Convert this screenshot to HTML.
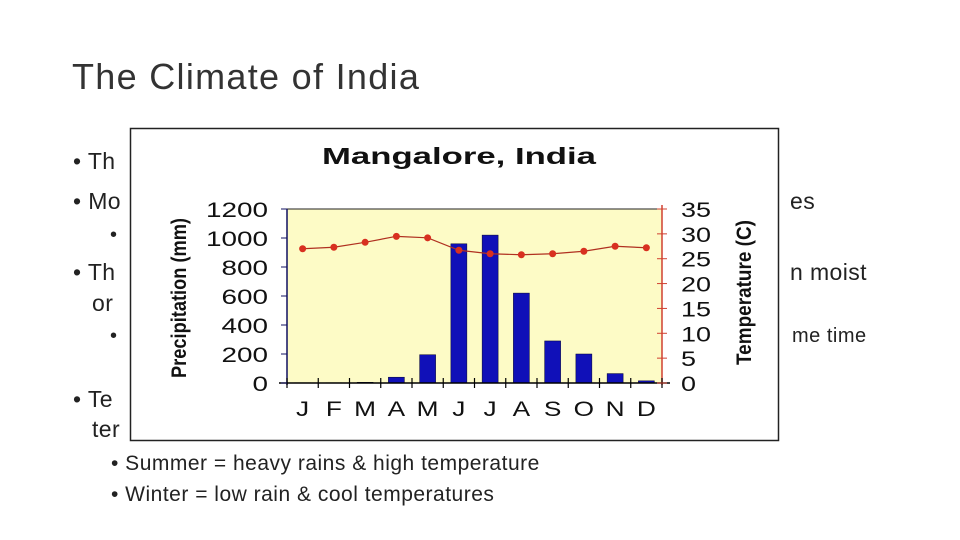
<!DOCTYPE html>
<html><head><meta charset="utf-8"><style>
body{margin:0;width:960px;height:540px;background:#fff;position:relative;overflow:hidden;font-family:"Liberation Sans",sans-serif}
.t{position:absolute;white-space:nowrap;color:#222;font-family:"Liberation Sans",sans-serif}
.m{font-size:23px;letter-spacing:0.4px}
.s{font-size:20px;letter-spacing:0.5px}
</style></head><body>
<div class="t" style="left:72px;top:56px;font-size:36px;letter-spacing:1.3px;color:#333">The Climate of India</div>
<div class="t m" style="left:73px;top:148px">• Th</div>
<div class="t m" style="left:73px;top:188px">• Mo</div>
<div class="t m" style="left:790px;top:188px">es</div>
<div class="t s" style="left:110px;top:224px">•</div>
<div class="t m" style="left:73px;top:259px">• Th</div>
<div class="t m" style="left:790px;top:259px">n moist</div>
<div class="t m" style="left:92px;top:290px">or</div>
<div class="t s" style="left:110px;top:325px">•</div>
<div class="t s" style="left:792px;top:325px">me time</div>
<div class="t m" style="left:73px;top:386px">• Te</div>
<div class="t m" style="left:92px;top:416px">ter</div>
<div class="t s" style="left:111px;top:452px;font-size:21px">• Summer = heavy rains &amp; high temperature</div>
<div class="t s" style="left:111px;top:483px;font-size:21px">• Winter = low rain &amp; cool temperatures</div>

<svg style="position:absolute;left:0;top:0" width="960" height="540">
<rect x="130.5" y="128.5" width="648" height="312" fill="#fff" stroke="#222" stroke-width="1.5"/>
<text x="322" y="164" textLength="274" lengthAdjust="spacingAndGlyphs" font-family="Liberation Sans" font-weight="bold" font-size="23" fill="#111">Mangalore, India</text>
<rect x="287" y="209" width="375" height="174" fill="#fdfbc6"/>
<line x1="287" y1="209" x2="662" y2="209" stroke="#222" stroke-width="1"/>
<g id="g"></g>
<text transform="translate(186,298) rotate(-90)" x="-80" textLength="160" lengthAdjust="spacingAndGlyphs" font-family="Liberation Sans" font-weight="bold" font-size="21" fill="#111">Precipitation (mm)</text>
<text transform="translate(751,293) rotate(-90)" x="-72" textLength="145" lengthAdjust="spacingAndGlyphs" font-family="Liberation Sans" font-weight="bold" font-size="21" fill="#111">Temperature (C)</text>
</svg>
<script>
const months=["J","F","M","A","M","J","J","A","S","O","N","D"];
const precip=[2,2,5,40,195,960,1020,620,290,200,65,15];
const temps=[27,27.3,28.3,29.5,29.2,26.7,26,25.8,26,26.5,27.5,27.2];
const precipTicks=[0,200,400,600,800,1000,1200];
const tempTicks=[0,5,10,15,20,25,30,35];
const g=document.getElementById('g');
const NS='http://www.w3.org/2000/svg';
const x0=287,x1=662,yb=383,yt=209;
const step=(x1-x0)/months.length;
const xc=i=>x0+step*(i+0.5);
const yP=v=>yb-(v/1200)*(yb-yt);
const yT=v=>yb-(v/35)*(yb-yt);
function mk(t,a){const e=document.createElementNS(NS,t);for(const k in a)e.setAttribute(k,a[k]);g.appendChild(e);return e;}
precip.forEach((v,i)=>{const r=mk('rect',{x:xc(i)-8,y:yP(v),width:16,height:yb-yP(v),fill:'#1010b8',stroke:'#000030','stroke-width':0.5});

});
const l=mk('polyline',{points:temps.map((v,i)=>xc(i)+','+yT(v)).join(' '),fill:'none',stroke:'#b03020','stroke-width':1.2});


temps.forEach((v,i)=>{const c=mk('circle',{cx:xc(i),cy:yT(v),r:3.5,fill:'#d83020'});

});
mk('line',{x1:x0,y1:yt,x2:x0,y2:yb+2,stroke:'#101060','stroke-width':1.5});
mk('line',{x1:x1,y1:yt-4,x2:x1,y2:yb+2,stroke:'#d04030','stroke-width':1.5});
mk('line',{x1:x0-8,y1:yb,x2:x1+8,y2:yb,stroke:'#000','stroke-width':1.5});
for(let i=0;i<=months.length;i++)mk('line',{x1:x0+step*i,y1:yb-5,x2:x0+step*i,y2:yb+5,stroke:'#000','stroke-width':1.2});
precipTicks.forEach(v=>{mk('line',{x1:x0-6,y1:yP(v),x2:x0,y2:yP(v),stroke:'#101060'});
const s=String(v);
const t=mk('text',{x:268-s.length*15.5,y:yP(v)+8,textLength:s.length*15.5,lengthAdjust:'spacingAndGlyphs','font-size':21,'font-family':'Liberation Sans',fill:'#111'});t.textContent=s;

});
tempTicks.forEach(v=>{mk('line',{x1:x1-5,y1:yT(v),x2:x1+5,y2:yT(v),stroke:'#d04030'});
const s=String(v);
const t=mk('text',{x:681,y:yT(v)+8,textLength:s.length*15,lengthAdjust:'spacingAndGlyphs','font-size':21,'font-family':'Liberation Sans',fill:'#111'});t.textContent=s;

});
months.forEach((m,i)=>{const t=mk('text',{x:xc(i),y:416,'text-anchor':'middle','font-size':21,'font-family':'Liberation Sans',fill:'#111',transform:'translate('+xc(i)+',0) scale(1.25,1) translate('+(-xc(i))+',0)'});t.textContent=m;

});
</script>
</body></html>
